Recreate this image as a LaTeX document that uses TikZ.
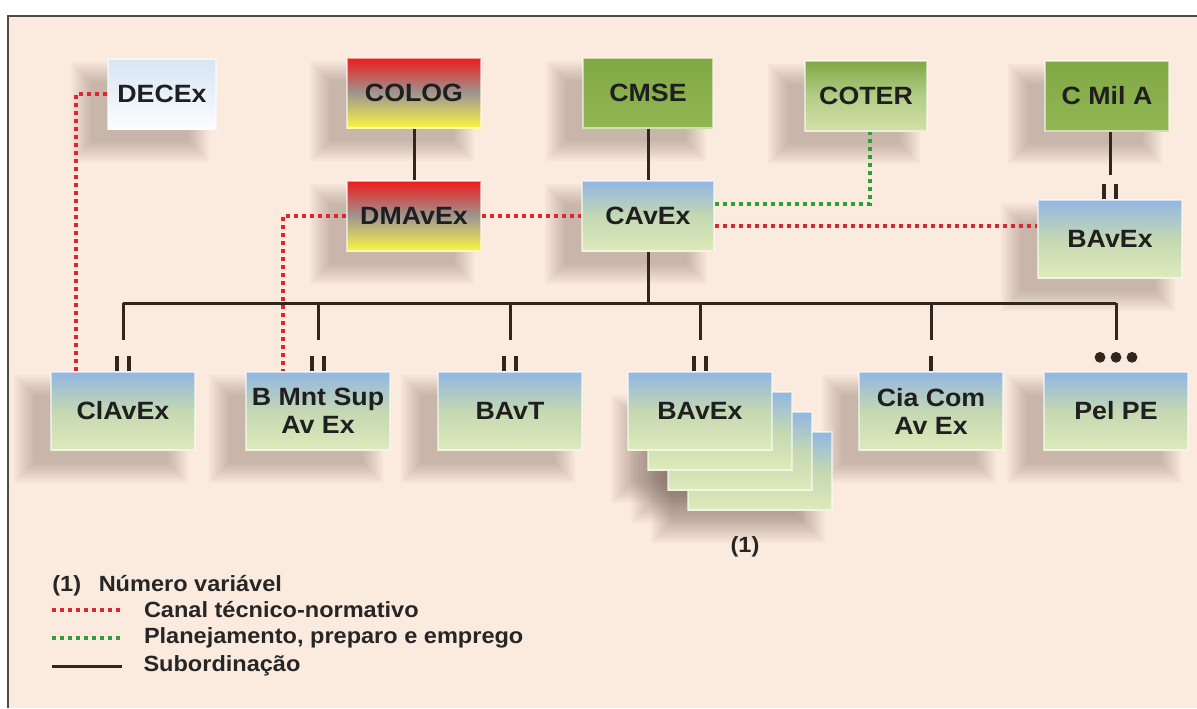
\documentclass[tikz,border=0pt]{standalone}
\usepackage{fontspec}
\setmainfont{Liberation Sans}
\newfontfamily\wideface[FakeStretch=1.07]{Liberation Sans}
\usetikzlibrary{calc}

\definecolor{bgpeach}{RGB}{251,234,222}
\definecolor{skyblue}{RGB}{145,182,226}
\definecolor{mixgreen}{RGB}{196,216,178}
\definecolor{palegreen}{RGB}{222,234,186}
\definecolor{olive}{RGB}{145,183,84}
\definecolor{olivedark}{RGB}{128,168,68}
\definecolor{olivepale}{RGB}{212,224,168}
\definecolor{redtop}{RGB}{236,28,28}
\definecolor{greymid}{RGB}{158,150,144}
\definecolor{yellowbot}{RGB}{250,246,70}
\definecolor{paleblue}{RGB}{214,229,245}
\definecolor{dotred}{RGB}{218,40,45}
\definecolor{dotgreen}{RGB}{45,160,60}
\definecolor{linedark}{RGB}{48,38,32}
\definecolor{shadowtone}{RGB}{95,72,62}

\pgfdeclarelayer{framelayer}
\pgfdeclarelayer{shadowlayer}
\pgfsetlayers{framelayer,shadowlayer,main}

\tikzset{
  box/.style={minimum width=67pt, minimum height=35pt, align=center, inner sep=1pt,
    text=black!88, draw=white, draw opacity=0.55, line width=0.7pt},
  unitbox/.style={box, minimum width=72pt, minimum height=39pt,
    top color=skyblue, bottom color=palegreen, middle color=mixgreen},
  logbox/.style={box, top color=redtop, bottom color=yellowbot, middle color=greymid},
  cmdbox/.style={box, top color=olivedark, bottom color=olive},
  subline/.style={linedark, line width=1.5pt},
  linkmark/.style={linedark, line width=1.8pt},
  reddot/.style={dotred, line width=2pt, dash pattern=on 2pt off 2pt},
  greendot/.style={dotgreen, line width=2pt, dash pattern=on 2pt off 2pt},
  legend/.style={font=\wideface\bfseries\fontsize{11}{13}\selectfont, text=black!85, anchor=west, inner sep=0pt}
}

\begin{document}
\begin{tikzpicture}[x=0.5pt, y=-0.5pt, font=\wideface\bfseries\fontsize{12.5}{14}\selectfont]

    % 1. Page and frame
    \useasboundingbox (0,0) rectangle (1197,708);
    \begin{pgfonlayer}{framelayer}
        \fill[white] (0,0) rectangle (1197,708);
        \fill[bgpeach] (8,16) rectangle (1197,708);
        \draw[line width=1.3pt, black!70] (8,708) -- (8,16) -- (1197,16);
    \end{pgfonlayer}

    % 2. Top row
    \node[box, minimum width=54pt, top color=paleblue, bottom color=white!92!paleblue] (decex) at (162,94) {DECEx};
    \node[logbox] (colog) at (414,93) {COLOG};
    \node[cmdbox, minimum width=65pt] (cmse) at (648,93) {CMSE};
    \node[box, minimum width=61pt, top color=olivedark, bottom color=olivepale, middle color=olive!70!white] (coter) at (866,96) {COTER};
    \node[cmdbox, minimum width=62pt] (cmila) at (1107,96) {C Mil A};

    % 3. Second row
    \node[logbox] (dmavex) at (414,216) {DMAvEx};
    \node[unitbox, minimum width=66pt, minimum height=35pt] (cavex) at (648,216) {CAvEx};
    \node[unitbox] (bavextop) at (1110,239) {BAvEx};

    % 4. Bottom row (BAvEx drawn as a stack)
    \node[unitbox] (clavex) at (123,411) {ClAvEx};
    \node[unitbox] (bmnt) at (318,411) {B Mnt Sup\\Av Ex};
    \node[unitbox] (bavt) at (510,411) {BAvT};
    \node[unitbox] (bavexc) at (760,471) {};
    \node[unitbox] (bavexb) at (740,451) {};
    \node[unitbox] (bavexa) at (720,431) {};
    \node[unitbox] (bavex) at (700,411) {BAvEx};
    \node[unitbox] (ciacom) at (931,411) {Cia Com\\Av Ex};
    \node[unitbox] (pelpe) at (1116,411) {Pel PE};
    \node[font=\wideface\bfseries\fontsize{11}{13}\selectfont, text=black!85] (nota) at (745,547) {(1)};

    % 5. Soft shadows behind the boxes
    \begin{pgfonlayer}{shadowlayer}
        \foreach \n in {decex, colog, cmse, coter, cmila, dmavex, cavex, bavextop,
                        clavex, bmnt, bavt, bavexc, bavexb, bavexa, ciacom, pelpe}
            \foreach \e in {14,12,...,-6}
                \fill[shadowtone, opacity=0.032]
                    ($(\n.south west)+(-22-\e,18+\e)$) rectangle ($(\n.north east)+(-22+\e,18-\e)$);
    \end{pgfonlayer}

    % 6. Subordination lines
    \coordinate (bus) at (0,303);
    \draw[subline] (colog) -- (dmavex);
    \draw[subline] (cmse) -- (cavex);
    \draw[subline] (cmila.south -| bavextop) -- ++(0,43);
    \draw[subline] (cavex.south) -- (cavex.south |- bus);
    \draw[subline] (clavex |- bus) -- (pelpe |- bus);
    \foreach \n in {clavex, bmnt, bavt, bavex, ciacom, pelpe}
        \draw[subline] (\n |- bus) -- ++(0,37);

    % 7. Link marks above the units
    \foreach \n in {clavex, bmnt, bavt, bavex, bavextop}{
        \draw[linkmark] ($(\n.north)+(-6,0)$) -- ++(0,-15);
        \draw[linkmark] ($(\n.north)+(6,0)$) -- ++(0,-15);
    }
    \draw[linkmark] (ciacom.north) -- ++(0,-15);
    \foreach \dx in {-16,0,16}
        \fill[linedark] ($(pelpe.north)+(\dx,-14)$) circle (2.7pt);

    % 8. Technical and planning channels
    \draw[reddot] (decex.west) -| ($(clavex.north west)+(26,0)$);
    \draw[reddot] (dmavex.west) -| ($(bmnt.north west)+(38,0)$);
    \draw[reddot] (dmavex.east) -- (cavex.west);
    \draw[reddot] ([yshift=-5pt]cavex.east) -- ([yshift=-5pt]cavex.east -| bavextop.west);
    \draw[greendot] ([yshift=6pt]cavex.east) -| ($(coter.south)+(4,0)$);

    % 9. Legend
    \node[legend] (leg1) at (52,586) {(1)\hspace{0.8em}Número variável};
    \coordinate (lr) at (52,610);
    \coordinate (lg) at (52,638);
    \coordinate (lb) at (52,666);
    \draw[reddot] (lr) -- ++(70,0) node[legend, right=10pt] (leg2) {Canal técnico-normativo};
    \draw[greendot] (lg) -- ++(70,0) node[legend, right=10pt] (leg3) {Planejamento, preparo e emprego};
    \draw[subline] (lb) -- ++(70,0) node[legend, right=10pt] (leg4) {Subordinação};
\end{tikzpicture}
\end{document}
